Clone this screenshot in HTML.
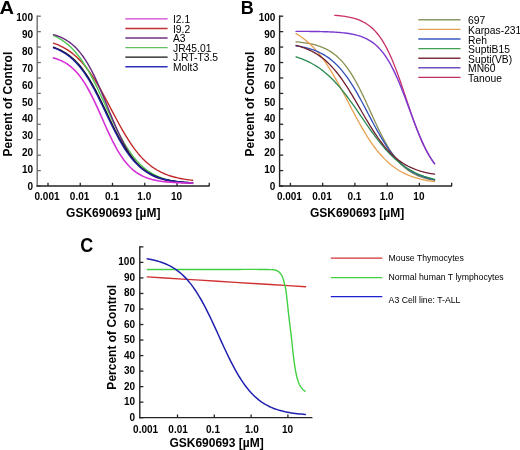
<!DOCTYPE html>
<html><head><meta charset="utf-8"><style>
html,body{margin:0;padding:0;background:#fff;}
body{width:520px;height:450px;overflow:hidden;}
svg{display:block;font-family:"Liberation Sans", sans-serif;will-change:transform;}
</style></head><body>
<svg width="520" height="450" viewBox="0 0 520 450">
<rect width="520" height="450" fill="#fff"/>
<text transform="translate(-0.6,13.9) scale(1.12,1)" x="0" y="0" font-size="18" font-weight="bold">A</text>
<line x1="37.2" y1="15.4" x2="37.2" y2="186.6" stroke="#6e6e6e" stroke-width="1.4"/>
<line x1="37.2" y1="16.2" x2="40.800000000000004" y2="16.2" stroke="#6e6e6e" stroke-width="1.3"/>
<line x1="37.2" y1="31.64" x2="40.800000000000004" y2="31.64" stroke="#6e6e6e" stroke-width="1.3"/>
<line x1="37.2" y1="47.08" x2="40.800000000000004" y2="47.08" stroke="#6e6e6e" stroke-width="1.3"/>
<line x1="37.2" y1="62.519999999999996" x2="40.800000000000004" y2="62.519999999999996" stroke="#6e6e6e" stroke-width="1.3"/>
<line x1="37.2" y1="77.96" x2="40.800000000000004" y2="77.96" stroke="#6e6e6e" stroke-width="1.3"/>
<line x1="37.2" y1="93.4" x2="40.800000000000004" y2="93.4" stroke="#6e6e6e" stroke-width="1.3"/>
<line x1="37.2" y1="108.84" x2="40.800000000000004" y2="108.84" stroke="#6e6e6e" stroke-width="1.3"/>
<line x1="37.2" y1="124.28" x2="40.800000000000004" y2="124.28" stroke="#6e6e6e" stroke-width="1.3"/>
<line x1="37.2" y1="139.72" x2="40.800000000000004" y2="139.72" stroke="#6e6e6e" stroke-width="1.3"/>
<line x1="37.2" y1="155.16" x2="40.800000000000004" y2="155.16" stroke="#6e6e6e" stroke-width="1.3"/>
<line x1="37.2" y1="170.6" x2="40.800000000000004" y2="170.6" stroke="#6e6e6e" stroke-width="1.3"/>
<line x1="37.2" y1="186.04" x2="40.800000000000004" y2="186.04" stroke="#6e6e6e" stroke-width="1.3"/>
<line x1="36.5" y1="186" x2="209.6" y2="186" stroke="#252525" stroke-width="1.3"/>
<line x1="48.0" y1="182.8" x2="48.0" y2="186" stroke="#252525" stroke-width="1.3"/>
<line x1="80.25" y1="182.8" x2="80.25" y2="186" stroke="#252525" stroke-width="1.3"/>
<line x1="112.5" y1="182.8" x2="112.5" y2="186" stroke="#252525" stroke-width="1.3"/>
<line x1="144.75" y1="182.8" x2="144.75" y2="186" stroke="#252525" stroke-width="1.3"/>
<line x1="177.0" y1="182.8" x2="177.0" y2="186" stroke="#252525" stroke-width="1.3"/>
<line x1="209.25" y1="182.8" x2="209.25" y2="186" stroke="#252525" stroke-width="1.3"/>
<text x="33.0" y="190.0" font-size="10" font-weight="bold" text-anchor="end" fill="#000" >0</text>
<text x="33.0" y="173.1" font-size="10" font-weight="bold" text-anchor="end" fill="#000" >10</text>
<text x="33.0" y="156.20000000000002" font-size="10" font-weight="bold" text-anchor="end" fill="#000" >20</text>
<text x="33.0" y="139.3" font-size="10" font-weight="bold" text-anchor="end" fill="#000" >30</text>
<text x="33.0" y="122.4" font-size="10" font-weight="bold" text-anchor="end" fill="#000" >40</text>
<text x="33.0" y="105.5" font-size="10" font-weight="bold" text-anchor="end" fill="#000" >50</text>
<text x="33.0" y="88.60000000000001" font-size="10" font-weight="bold" text-anchor="end" fill="#000" >60</text>
<text x="33.0" y="71.70000000000002" font-size="10" font-weight="bold" text-anchor="end" fill="#000" >70</text>
<text x="33.0" y="54.80000000000002" font-size="10" font-weight="bold" text-anchor="end" fill="#000" >80</text>
<text x="33.0" y="37.90000000000001" font-size="10" font-weight="bold" text-anchor="end" fill="#000" >90</text>
<text x="33.0" y="21.000000000000007" font-size="10" font-weight="bold" text-anchor="end" fill="#000" >100</text>
<text x="47.0" y="199.8" font-size="10" font-weight="bold" text-anchor="middle" fill="#000" >0.001</text>
<text x="79.6" y="199.8" font-size="10" font-weight="bold" text-anchor="middle" fill="#000" >0.01</text>
<text x="112.0" y="199.8" font-size="10" font-weight="bold" text-anchor="middle" fill="#000" >0.1</text>
<text x="144.3" y="199.8" font-size="10" font-weight="bold" text-anchor="middle" fill="#000" >1.0</text>
<text x="176.5" y="199.8" font-size="10" font-weight="bold" text-anchor="middle" fill="#000" >10</text>
<text x="66.10000000000001" y="216.6" font-size="12" font-weight="bold" text-anchor="start" fill="#000" >GSK690693 [µM]</text>
<text transform="translate(11.9,104.1) rotate(-90)" x="0" y="0" font-size="12" font-weight="bold" text-anchor="middle">Percent of Control</text>
<path d="M53.50,43.16 L55.26,43.79 L57.02,44.47 L58.78,45.21 L60.54,46.01 L62.30,46.88 L64.06,47.82 L65.83,48.84 L67.59,49.93 L69.35,51.11 L71.11,52.38 L72.87,53.74 L74.63,55.21 L76.39,56.77 L78.15,58.44 L79.91,60.22 L81.67,62.11 L83.43,64.12 L85.19,66.25 L86.95,68.49 L88.72,70.85 L90.48,73.33 L92.24,75.92 L94.00,78.63 L95.76,81.43 L97.52,84.34 L99.28,87.34 L101.04,90.43 L102.80,93.59 L104.56,96.81 L106.32,100.08 L108.08,103.39 L109.84,106.72 L111.61,110.07 L113.37,113.41 L115.13,116.74 L116.89,120.03 L118.65,123.28 L120.41,126.48 L122.17,129.60 L123.93,132.65 L125.69,135.61 L127.45,138.47 L129.21,141.23 L130.97,143.88 L132.73,146.42 L134.49,148.85 L136.26,151.16 L138.02,153.34 L139.78,155.42 L141.54,157.37 L143.30,159.21 L145.06,160.94 L146.82,162.56 L148.58,164.08 L150.34,165.49 L152.10,166.81 L153.86,168.04 L155.62,169.18 L157.38,170.24 L159.15,171.22 L160.91,172.13 L162.67,172.96 L164.43,173.74 L166.19,174.45 L167.95,175.11 L169.71,175.72 L171.47,176.27 L173.23,176.79 L174.99,177.26 L176.75,177.69 L178.51,178.09 L180.27,178.45 L182.04,178.78 L183.80,179.09 L185.56,179.37 L187.32,179.63 L189.08,179.86 L190.84,180.08 L192.60,180.27" fill="none" stroke="#c02828" stroke-width="1.4" stroke-linecap="round"/>
<path d="M53.50,35.55 L55.26,36.35 L57.02,37.23 L58.78,38.18 L60.54,39.22 L62.30,40.34 L64.06,41.56 L65.83,42.89 L67.59,44.31 L69.35,45.85 L71.11,47.51 L72.87,49.30 L74.63,51.21 L76.39,53.25 L78.15,55.44 L79.91,57.76 L81.67,60.22 L83.43,62.83 L85.19,65.58 L86.95,68.47 L88.72,71.50 L90.48,74.66 L92.24,77.94 L94.00,81.34 L95.76,84.85 L97.52,88.44 L99.28,92.12 L101.04,95.85 L102.80,99.64 L104.56,103.45 L106.32,107.28 L108.08,111.10 L109.84,114.90 L111.61,118.66 L113.37,122.35 L115.13,125.98 L116.89,129.52 L118.65,132.95 L120.41,136.27 L122.17,139.48 L123.93,142.55 L125.69,145.49 L127.45,148.29 L129.21,150.94 L130.97,153.45 L132.73,155.83 L134.49,158.06 L136.26,160.15 L138.02,162.10 L139.78,163.93 L141.54,165.63 L143.30,167.21 L145.06,168.67 L146.82,170.03 L148.58,171.28 L150.34,172.44 L152.10,173.51 L153.86,174.49 L155.62,175.39 L157.38,176.22 L159.15,176.98 L160.91,177.67 L162.67,178.31 L164.43,178.89 L166.19,179.42 L167.95,179.91 L169.71,180.35 L171.47,180.76 L173.23,181.13 L174.99,181.47 L176.75,181.77 L178.51,182.05 L180.27,182.31 L182.04,182.54 L183.80,182.75 L185.56,182.94 L187.32,183.12 L189.08,183.28 L190.84,183.42 L192.60,183.55" fill="none" stroke="#50c850" stroke-width="1.4" stroke-linecap="round"/>
<path d="M53.50,34.60 L55.26,35.14 L57.02,35.74 L58.78,36.40 L60.54,37.14 L62.30,37.96 L64.06,38.87 L65.83,39.87 L67.59,40.97 L69.35,42.19 L71.11,43.52 L72.87,44.99 L74.63,46.59 L76.39,48.34 L78.15,50.25 L79.91,52.32 L81.67,54.57 L83.43,56.99 L85.19,59.60 L86.95,62.39 L88.72,65.38 L90.48,68.54 L92.24,71.89 L94.00,75.42 L95.76,79.11 L97.52,82.96 L99.28,86.94 L101.04,91.04 L102.80,95.24 L104.56,99.51 L106.32,103.82 L108.08,108.15 L109.84,112.48 L111.61,116.77 L113.37,121.00 L115.13,125.14 L116.89,129.17 L118.65,133.07 L120.41,136.83 L122.17,140.43 L123.93,143.85 L125.69,147.09 L127.45,150.15 L129.21,153.02 L130.97,155.70 L132.73,158.20 L134.49,160.52 L136.26,162.66 L138.02,164.63 L139.78,166.45 L141.54,168.11 L143.30,169.63 L145.06,171.02 L146.82,172.28 L148.58,173.43 L150.34,174.47 L152.10,175.41 L153.86,176.26 L155.62,177.03 L157.38,177.73 L159.15,178.36 L160.91,178.92 L162.67,179.43 L164.43,179.89 L166.19,180.30 L167.95,180.67 L169.71,181.00 L171.47,181.29 L173.23,181.56 L174.99,181.80 L176.75,182.01 L178.51,182.20 L180.27,182.38 L182.04,182.53 L183.80,182.67 L185.56,182.79 L187.32,182.90 L189.08,183.00 L190.84,183.09 L192.60,183.17" fill="none" stroke="#6a2880" stroke-width="1.4" stroke-linecap="round"/>
<path d="M53.50,47.26 L55.26,47.88 L57.02,48.57 L58.78,49.32 L60.54,50.14 L62.30,51.05 L64.06,52.04 L65.83,53.11 L67.59,54.29 L69.35,55.57 L71.11,56.96 L72.87,58.47 L74.63,60.11 L76.39,61.87 L78.15,63.77 L79.91,65.81 L81.67,67.99 L83.43,70.32 L85.19,72.80 L86.95,75.42 L88.72,78.20 L90.48,81.11 L92.24,84.16 L94.00,87.34 L95.76,90.63 L97.52,94.04 L99.28,97.54 L101.04,101.11 L102.80,104.74 L104.56,108.42 L106.32,112.12 L108.08,115.82 L109.84,119.50 L111.61,123.14 L113.37,126.73 L115.13,130.24 L116.89,133.67 L118.65,136.99 L120.41,140.19 L122.17,143.27 L123.93,146.21 L125.69,149.01 L127.45,151.66 L129.21,154.17 L130.97,156.53 L132.73,158.74 L134.49,160.81 L136.26,162.74 L138.02,164.53 L139.78,166.19 L141.54,167.72 L143.30,169.14 L145.06,170.44 L146.82,171.64 L148.58,172.73 L150.34,173.74 L152.10,174.66 L153.86,175.50 L155.62,176.27 L157.38,176.96 L159.15,177.60 L160.91,178.18 L162.67,178.70 L164.43,179.18 L166.19,179.61 L167.95,180.00 L169.71,180.36 L171.47,180.68 L173.23,180.97 L174.99,181.23 L176.75,181.47 L178.51,181.68 L180.27,181.88 L182.04,182.06 L183.80,182.21 L185.56,182.36 L187.32,182.49 L189.08,182.60 L190.84,182.71 L192.60,182.80" fill="none" stroke="#101010" stroke-width="1.4" stroke-linecap="round"/>
<path d="M53.50,47.82 L55.26,48.47 L57.02,49.19 L58.78,49.97 L60.54,50.83 L62.30,51.76 L64.06,52.79 L65.83,53.91 L67.59,55.13 L69.35,56.46 L71.11,57.90 L72.87,59.46 L74.63,61.15 L76.39,62.97 L78.15,64.93 L79.91,67.03 L81.67,69.27 L83.43,71.67 L85.19,74.20 L86.95,76.89 L88.72,79.72 L90.48,82.69 L92.24,85.79 L94.00,89.02 L95.76,92.36 L97.52,95.80 L99.28,99.33 L101.04,102.93 L102.80,106.57 L104.56,110.25 L106.32,113.95 L108.08,117.63 L109.84,121.29 L111.61,124.91 L113.37,128.45 L115.13,131.92 L116.89,135.29 L118.65,138.55 L120.41,141.69 L122.17,144.70 L123.93,147.58 L125.69,150.30 L127.45,152.89 L129.21,155.32 L130.97,157.61 L132.73,159.75 L134.49,161.75 L136.26,163.61 L138.02,165.34 L139.78,166.93 L141.54,168.41 L143.30,169.77 L145.06,171.02 L146.82,172.17 L148.58,173.22 L150.34,174.19 L152.10,175.07 L153.86,175.87 L155.62,176.61 L157.38,177.27 L159.15,177.88 L160.91,178.43 L162.67,178.93 L164.43,179.39 L166.19,179.80 L167.95,180.17 L169.71,180.51 L171.47,180.82 L173.23,181.10 L174.99,181.35 L176.75,181.57 L178.51,181.78 L180.27,181.97 L182.04,182.13 L183.80,182.28 L185.56,182.42 L187.32,182.54 L189.08,182.66 L190.84,182.76 L192.60,182.85" fill="none" stroke="#2020a0" stroke-width="1.4" stroke-linecap="round"/>
<path d="M53.50,57.86 L55.26,58.39 L57.02,58.98 L58.78,59.64 L60.54,60.38 L62.30,61.21 L64.06,62.12 L65.83,63.15 L67.59,64.28 L69.35,65.54 L71.11,66.94 L72.87,68.47 L74.63,70.16 L76.39,72.01 L78.15,74.03 L79.91,76.23 L81.67,78.61 L83.43,81.18 L85.19,83.94 L86.95,86.88 L88.72,90.01 L90.48,93.31 L92.24,96.77 L94.00,100.37 L95.76,104.11 L97.52,107.94 L99.28,111.86 L101.04,115.82 L102.80,119.80 L104.56,123.78 L106.32,127.71 L108.08,131.58 L109.84,135.35 L111.61,139.00 L113.37,142.52 L115.13,145.87 L116.89,149.06 L118.65,152.07 L120.41,154.89 L122.17,157.53 L123.93,159.98 L125.69,162.24 L127.45,164.32 L129.21,166.23 L130.97,167.97 L132.73,169.56 L134.49,171.00 L136.26,172.31 L138.02,173.49 L139.78,174.55 L141.54,175.50 L143.30,176.36 L145.06,177.13 L146.82,177.82 L148.58,178.43 L150.34,178.98 L152.10,179.47 L153.86,179.90 L155.62,180.29 L157.38,180.63 L159.15,180.94 L160.91,181.21 L162.67,181.45 L164.43,181.67 L166.19,181.86 L167.95,182.03 L169.71,182.18 L171.47,182.31 L173.23,182.43 L174.99,182.53 L176.75,182.62 L178.51,182.70 L180.27,182.78 L182.04,182.84 L183.80,182.90 L185.56,182.95 L187.32,182.99 L189.08,183.03 L190.84,183.06 L192.60,183.09" fill="none" stroke="#d830d8" stroke-width="1.6" stroke-linecap="round"/>
<line x1="125.3" y1="18.9" x2="167.6" y2="18.9" stroke="#d040d0" stroke-width="1.4"/>
<text x="173.0" y="23.099999999999998" font-size="10.3" font-weight="normal" text-anchor="start" fill="#000" >I2.1</text>
<line x1="125.3" y1="28.46" x2="167.6" y2="28.46" stroke="#c03030" stroke-width="1.4"/>
<text x="173.0" y="32.660000000000004" font-size="10.3" font-weight="normal" text-anchor="start" fill="#000" >I9.2</text>
<line x1="125.3" y1="38.019999999999996" x2="167.6" y2="38.019999999999996" stroke="#703080" stroke-width="1.4"/>
<text x="173.0" y="42.22" font-size="10.3" font-weight="normal" text-anchor="start" fill="#000" >A3</text>
<line x1="125.3" y1="47.58" x2="167.6" y2="47.58" stroke="#60c060" stroke-width="1.4"/>
<text x="173.0" y="51.78" font-size="10.3" font-weight="normal" text-anchor="start" fill="#000" >JR45.01</text>
<line x1="125.3" y1="57.14" x2="167.6" y2="57.14" stroke="#101010" stroke-width="1.4"/>
<text x="173.0" y="61.34" font-size="10.3" font-weight="normal" text-anchor="start" fill="#000" >J.RT-T3.5</text>
<line x1="125.3" y1="66.7" x2="167.6" y2="66.7" stroke="#3030c0" stroke-width="1.4"/>
<text x="173.0" y="70.9" font-size="10.3" font-weight="normal" text-anchor="start" fill="#000" >Molt3</text>
<text x="240.8" y="13.9" font-size="18" font-weight="bold" text-anchor="start" fill="#000" >B</text>
<line x1="279.6" y1="15.4" x2="279.6" y2="186.6" stroke="#252525" stroke-width="1.4"/>
<line x1="279.6" y1="16.2" x2="283.20000000000005" y2="16.2" stroke="#252525" stroke-width="1.3"/>
<line x1="279.6" y1="31.64" x2="283.20000000000005" y2="31.64" stroke="#252525" stroke-width="1.3"/>
<line x1="279.6" y1="47.08" x2="283.20000000000005" y2="47.08" stroke="#252525" stroke-width="1.3"/>
<line x1="279.6" y1="62.519999999999996" x2="283.20000000000005" y2="62.519999999999996" stroke="#252525" stroke-width="1.3"/>
<line x1="279.6" y1="77.96" x2="283.20000000000005" y2="77.96" stroke="#252525" stroke-width="1.3"/>
<line x1="279.6" y1="93.4" x2="283.20000000000005" y2="93.4" stroke="#252525" stroke-width="1.3"/>
<line x1="279.6" y1="108.84" x2="283.20000000000005" y2="108.84" stroke="#252525" stroke-width="1.3"/>
<line x1="279.6" y1="124.28" x2="283.20000000000005" y2="124.28" stroke="#252525" stroke-width="1.3"/>
<line x1="279.6" y1="139.72" x2="283.20000000000005" y2="139.72" stroke="#252525" stroke-width="1.3"/>
<line x1="279.6" y1="155.16" x2="283.20000000000005" y2="155.16" stroke="#252525" stroke-width="1.3"/>
<line x1="279.6" y1="170.6" x2="283.20000000000005" y2="170.6" stroke="#252525" stroke-width="1.3"/>
<line x1="279.6" y1="186.04" x2="283.20000000000005" y2="186.04" stroke="#252525" stroke-width="1.3"/>
<line x1="278.90000000000003" y1="186" x2="452.0" y2="186" stroke="#252525" stroke-width="1.3"/>
<line x1="290.4" y1="182.8" x2="290.4" y2="186" stroke="#252525" stroke-width="1.3"/>
<line x1="322.65" y1="182.8" x2="322.65" y2="186" stroke="#252525" stroke-width="1.3"/>
<line x1="354.9" y1="182.8" x2="354.9" y2="186" stroke="#252525" stroke-width="1.3"/>
<line x1="387.15" y1="182.8" x2="387.15" y2="186" stroke="#252525" stroke-width="1.3"/>
<line x1="419.4" y1="182.8" x2="419.4" y2="186" stroke="#252525" stroke-width="1.3"/>
<line x1="451.65" y1="182.8" x2="451.65" y2="186" stroke="#252525" stroke-width="1.3"/>
<text x="275.4" y="190.0" font-size="10" font-weight="bold" text-anchor="end" fill="#000" >0</text>
<text x="275.4" y="173.1" font-size="10" font-weight="bold" text-anchor="end" fill="#000" >10</text>
<text x="275.4" y="156.20000000000002" font-size="10" font-weight="bold" text-anchor="end" fill="#000" >20</text>
<text x="275.4" y="139.3" font-size="10" font-weight="bold" text-anchor="end" fill="#000" >30</text>
<text x="275.4" y="122.4" font-size="10" font-weight="bold" text-anchor="end" fill="#000" >40</text>
<text x="275.4" y="105.5" font-size="10" font-weight="bold" text-anchor="end" fill="#000" >50</text>
<text x="275.4" y="88.60000000000001" font-size="10" font-weight="bold" text-anchor="end" fill="#000" >60</text>
<text x="275.4" y="71.70000000000002" font-size="10" font-weight="bold" text-anchor="end" fill="#000" >70</text>
<text x="275.4" y="54.80000000000002" font-size="10" font-weight="bold" text-anchor="end" fill="#000" >80</text>
<text x="275.4" y="37.90000000000001" font-size="10" font-weight="bold" text-anchor="end" fill="#000" >90</text>
<text x="275.4" y="21.000000000000007" font-size="10" font-weight="bold" text-anchor="end" fill="#000" >100</text>
<text x="289.4" y="199.8" font-size="10" font-weight="bold" text-anchor="middle" fill="#000" >0.001</text>
<text x="322.0" y="199.8" font-size="10" font-weight="bold" text-anchor="middle" fill="#000" >0.01</text>
<text x="354.4" y="199.8" font-size="10" font-weight="bold" text-anchor="middle" fill="#000" >0.1</text>
<text x="386.70000000000005" y="199.8" font-size="10" font-weight="bold" text-anchor="middle" fill="#000" >1.0</text>
<text x="418.9" y="199.8" font-size="10" font-weight="bold" text-anchor="middle" fill="#000" >10</text>
<text x="309.9" y="216.6" font-size="12" font-weight="bold" text-anchor="start" fill="#000" >GSK690693 [µM]</text>
<text transform="translate(254.3,104.1) rotate(-90)" x="0" y="0" font-size="12" font-weight="bold" text-anchor="middle">Percent of Control</text>
<path d="M296.00,41.79 L297.75,41.95 L299.51,42.13 L301.26,42.33 L303.02,42.55 L304.77,42.80 L306.53,43.07 L308.28,43.37 L310.04,43.71 L311.79,44.08 L313.54,44.49 L315.30,44.95 L317.05,45.46 L318.81,46.01 L320.56,46.63 L322.32,47.31 L324.07,48.07 L325.83,48.89 L327.58,49.81 L329.33,50.81 L331.09,51.90 L332.84,53.11 L334.60,54.42 L336.35,55.85 L338.11,57.41 L339.86,59.11 L341.62,60.94 L343.37,62.92 L345.12,65.06 L346.88,67.35 L348.63,69.80 L350.39,72.41 L352.14,75.18 L353.90,78.11 L355.65,81.20 L357.41,84.42 L359.16,87.79 L360.91,91.28 L362.67,94.88 L364.42,98.57 L366.18,102.33 L367.93,106.15 L369.69,110.00 L371.44,113.86 L373.19,117.71 L374.95,121.52 L376.70,125.28 L378.46,128.96 L380.21,132.54 L381.97,136.01 L383.72,139.36 L385.48,142.56 L387.23,145.62 L388.98,148.53 L390.74,151.28 L392.49,153.86 L394.25,156.29 L396.00,158.56 L397.76,160.67 L399.51,162.63 L401.27,164.44 L403.02,166.11 L404.77,167.65 L406.53,169.07 L408.28,170.36 L410.04,171.55 L411.79,172.63 L413.55,173.62 L415.30,174.52 L417.06,175.33 L418.81,176.07 L420.56,176.75 L422.32,177.35 L424.07,177.90 L425.83,178.40 L427.58,178.85 L429.34,179.26 L431.09,179.62 L432.85,179.96 L434.60,180.25" fill="none" stroke="#8a9050" stroke-width="1.3" stroke-linecap="round"/>
<path d="M296.00,33.68 L297.75,34.70 L299.51,35.78 L301.26,36.95 L303.02,38.19 L304.77,39.52 L306.53,40.93 L308.28,42.43 L310.04,44.02 L311.79,45.71 L313.54,47.50 L315.30,49.40 L317.05,51.39 L318.81,53.49 L320.56,55.70 L322.32,58.01 L324.07,60.43 L325.83,62.95 L327.58,65.57 L329.33,68.29 L331.09,71.11 L332.84,74.02 L334.60,77.01 L336.35,80.08 L338.11,83.22 L339.86,86.42 L341.62,89.68 L343.37,92.97 L345.12,96.30 L346.88,99.65 L348.63,103.01 L350.39,106.37 L352.14,109.71 L353.90,113.03 L355.65,116.32 L357.41,119.56 L359.16,122.75 L360.91,125.87 L362.67,128.92 L364.42,131.89 L366.18,134.78 L367.93,137.58 L369.69,140.27 L371.44,142.87 L373.19,145.37 L374.95,147.76 L376.70,150.05 L378.46,152.23 L380.21,154.30 L381.97,156.27 L383.72,158.14 L385.48,159.90 L387.23,161.57 L388.98,163.14 L390.74,164.62 L392.49,166.01 L394.25,167.32 L396.00,168.54 L397.76,169.69 L399.51,170.76 L401.27,171.76 L403.02,172.69 L404.77,173.56 L406.53,174.37 L408.28,175.13 L410.04,175.83 L411.79,176.48 L413.55,177.08 L415.30,177.65 L417.06,178.17 L418.81,178.65 L420.56,179.10 L422.32,179.51 L424.07,179.90 L425.83,180.25 L427.58,180.58 L429.34,180.88 L431.09,181.17 L432.85,181.43 L434.60,181.67" fill="none" stroke="#e8a050" stroke-width="1.3" stroke-linecap="round"/>
<path d="M296.00,45.79 L297.75,46.06 L299.51,46.36 L301.26,46.68 L303.02,47.04 L304.77,47.43 L306.53,47.85 L308.28,48.31 L310.04,48.82 L311.79,49.37 L313.54,49.97 L315.30,50.63 L317.05,51.35 L318.81,52.12 L320.56,52.97 L322.32,53.88 L324.07,54.88 L325.83,55.95 L327.58,57.12 L329.33,58.37 L331.09,59.73 L332.84,61.18 L334.60,62.74 L336.35,64.41 L338.11,66.20 L339.86,68.10 L341.62,70.13 L343.37,72.28 L345.12,74.55 L346.88,76.94 L348.63,79.45 L350.39,82.08 L352.14,84.83 L353.90,87.68 L355.65,90.63 L357.41,93.68 L359.16,96.81 L360.91,100.00 L362.67,103.26 L364.42,106.56 L366.18,109.89 L367.93,113.24 L369.69,116.58 L371.44,119.91 L373.19,123.22 L374.95,126.47 L376.70,129.67 L378.46,132.80 L380.21,135.84 L381.97,138.80 L383.72,141.65 L385.48,144.39 L387.23,147.02 L388.98,149.54 L390.74,151.93 L392.49,154.20 L394.25,156.35 L396.00,158.37 L397.76,160.27 L399.51,162.06 L401.27,163.73 L403.02,165.29 L404.77,166.75 L406.53,168.10 L408.28,169.35 L410.04,170.52 L411.79,171.59 L413.55,172.59 L415.30,173.50 L417.06,174.35 L418.81,175.13 L420.56,175.84 L422.32,176.50 L424.07,177.10 L425.83,177.65 L427.58,178.16 L429.34,178.62 L431.09,179.05 L432.85,179.43 L434.60,179.79" fill="none" stroke="#3050b8" stroke-width="1.3" stroke-linecap="round"/>
<path d="M296.00,56.88 L297.75,57.43 L299.51,58.03 L301.26,58.67 L303.02,59.35 L304.77,60.08 L306.53,60.85 L308.28,61.67 L310.04,62.55 L311.79,63.48 L313.54,64.47 L315.30,65.52 L317.05,66.63 L318.81,67.81 L320.56,69.05 L322.32,70.36 L324.07,71.74 L325.83,73.19 L327.58,74.71 L329.33,76.31 L331.09,77.98 L332.84,79.73 L334.60,81.55 L336.35,83.45 L338.11,85.42 L339.86,87.45 L341.62,89.56 L343.37,91.73 L345.12,93.97 L346.88,96.26 L348.63,98.61 L350.39,101.01 L352.14,103.45 L353.90,105.93 L355.65,108.43 L357.41,110.97 L359.16,113.52 L360.91,116.08 L362.67,118.64 L364.42,121.20 L366.18,123.75 L367.93,126.28 L369.69,128.78 L371.44,131.25 L373.19,133.69 L374.95,136.07 L376.70,138.41 L378.46,140.70 L380.21,142.92 L381.97,145.08 L383.72,147.18 L385.48,149.20 L387.23,151.16 L388.98,153.04 L390.74,154.85 L392.49,156.58 L394.25,158.24 L396.00,159.82 L397.76,161.33 L399.51,162.77 L401.27,164.14 L403.02,165.44 L404.77,166.67 L406.53,167.83 L408.28,168.93 L410.04,169.96 L411.79,170.94 L413.55,171.86 L415.30,172.73 L417.06,173.55 L418.81,174.31 L420.56,175.03 L422.32,175.70 L424.07,176.33 L425.83,176.92 L427.58,177.47 L429.34,177.99 L431.09,178.47 L432.85,178.92 L434.60,179.34" fill="none" stroke="#2a8a50" stroke-width="1.3" stroke-linecap="round"/>
<path d="M296.00,45.43 L297.75,45.89 L299.51,46.38 L301.26,46.92 L303.02,47.51 L304.77,48.14 L306.53,48.83 L308.28,49.57 L310.04,50.37 L311.79,51.23 L313.54,52.16 L315.30,53.16 L317.05,54.23 L318.81,55.38 L320.56,56.62 L322.32,57.94 L324.07,59.35 L325.83,60.85 L327.58,62.45 L329.33,64.15 L331.09,65.96 L332.84,67.86 L334.60,69.87 L336.35,71.98 L338.11,74.19 L339.86,76.51 L341.62,78.92 L343.37,81.43 L345.12,84.03 L346.88,86.71 L348.63,89.47 L350.39,92.31 L352.14,95.20 L353.90,98.14 L355.65,101.13 L357.41,104.14 L359.16,107.18 L360.91,110.21 L362.67,113.25 L364.42,116.26 L366.18,119.25 L367.93,122.20 L369.69,125.09 L371.44,127.93 L373.19,130.69 L374.95,133.38 L376.70,135.98 L378.46,138.50 L380.21,140.92 L381.97,143.24 L383.72,145.46 L385.48,147.57 L387.23,149.58 L388.98,151.49 L390.74,153.30 L392.49,155.00 L394.25,156.61 L396.00,158.12 L397.76,159.53 L399.51,160.86 L401.27,162.10 L403.02,163.26 L404.77,164.33 L406.53,165.34 L408.28,166.27 L410.04,167.13 L411.79,167.94 L413.55,168.68 L415.30,169.37 L417.06,170.00 L418.81,170.59 L420.56,171.13 L422.32,171.63 L424.07,172.09 L425.83,172.52 L427.58,172.91 L429.34,173.27 L431.09,173.60 L432.85,173.90 L434.60,174.18" fill="none" stroke="#702030" stroke-width="1.3" stroke-linecap="round"/>
<path d="M334.70,15.28 L335.96,15.38 L337.23,15.49 L338.49,15.61 L339.76,15.74 L341.02,15.88 L342.29,16.03 L343.55,16.20 L344.82,16.38 L346.08,16.58 L347.35,16.80 L348.61,17.04 L349.87,17.29 L351.14,17.58 L352.40,17.88 L353.67,18.22 L354.93,18.58 L356.20,18.98 L357.46,19.41 L358.73,19.88 L359.99,20.39 L361.26,20.95 L362.52,21.55 L363.78,22.21 L365.05,22.92 L366.31,23.68 L367.58,24.52 L368.84,25.42 L370.11,26.39 L371.37,27.44 L372.64,28.57 L373.90,29.79 L375.17,31.11 L376.43,32.52 L377.69,34.03 L378.96,35.65 L380.22,37.38 L381.49,39.23 L382.75,41.20 L384.02,43.29 L385.28,45.51 L386.55,47.86 L387.81,50.33 L389.08,52.94 L390.34,55.68 L391.61,58.54 L392.87,61.53 L394.13,64.65 L395.40,67.87 L396.66,71.20 L397.93,74.64 L399.19,78.16 L400.46,81.76 L401.72,85.42 L402.99,89.14 L404.25,92.89 L405.52,96.67 L406.78,100.46 L408.04,104.24 L409.31,108.01 L410.57,111.73 L411.84,115.41 L413.10,119.02 L414.37,122.55 L415.63,126.00 L416.90,129.35 L418.16,132.60 L419.43,135.73 L420.69,138.74 L421.95,141.63 L423.22,144.39 L424.48,147.02 L425.75,149.52 L427.01,151.89 L428.28,154.14 L429.54,156.25 L430.81,158.24 L432.07,160.11 L433.34,161.86 L434.60,163.50" fill="none" stroke="#c83068" stroke-width="1.3" stroke-linecap="round"/>
<path d="M296.00,31.34 L297.75,31.35 L299.51,31.35 L301.26,31.36 L303.02,31.37 L304.77,31.39 L306.53,31.40 L308.28,31.42 L310.04,31.43 L311.79,31.45 L313.54,31.48 L315.30,31.50 L317.05,31.53 L318.81,31.56 L320.56,31.60 L322.32,31.64 L324.07,31.69 L325.83,31.74 L327.58,31.80 L329.33,31.87 L331.09,31.95 L332.84,32.03 L334.60,32.13 L336.35,32.24 L338.11,32.36 L339.86,32.50 L341.62,32.66 L343.37,32.84 L345.12,33.04 L346.88,33.26 L348.63,33.52 L350.39,33.80 L352.14,34.12 L353.90,34.49 L355.65,34.89 L357.41,35.35 L359.16,35.87 L360.91,36.44 L362.67,37.09 L364.42,37.81 L366.18,38.62 L367.93,39.53 L369.69,40.54 L371.44,41.66 L373.19,42.91 L374.95,44.29 L376.70,45.83 L378.46,47.52 L380.21,49.39 L381.97,51.43 L383.72,53.68 L385.48,56.12 L387.23,58.78 L388.98,61.66 L390.74,64.76 L392.49,68.08 L394.25,71.62 L396.00,75.38 L397.76,79.34 L399.51,83.49 L401.27,87.80 L403.02,92.27 L404.77,96.85 L406.53,101.52 L408.28,106.24 L410.04,110.99 L411.79,115.72 L413.55,120.39 L415.30,124.99 L417.06,129.47 L418.81,133.80 L420.56,137.98 L422.32,141.96 L424.07,145.74 L425.83,149.31 L427.58,152.66 L429.34,155.79 L431.09,158.69 L432.85,161.38 L434.60,163.85" fill="none" stroke="#7a38d0" stroke-width="1.4" stroke-linecap="round"/>
<line x1="418.3" y1="19.8" x2="460.5" y2="19.8" stroke="#8a9a60" stroke-width="1.4"/>
<text x="468.1" y="24.4" font-size="10.3" font-weight="normal" text-anchor="start" fill="#000" >697</text>
<line x1="418.3" y1="29.4" x2="460.5" y2="29.4" stroke="#e0a050" stroke-width="1.4"/>
<text x="468.1" y="34.0" font-size="10.3" font-weight="normal" text-anchor="start" fill="#000" >Karpas-231</text>
<line x1="418.3" y1="39.0" x2="460.5" y2="39.0" stroke="#3a58c0" stroke-width="1.4"/>
<text x="468.1" y="43.6" font-size="10.3" font-weight="normal" text-anchor="start" fill="#000" >Reh</text>
<line x1="418.3" y1="48.599999999999994" x2="460.5" y2="48.599999999999994" stroke="#40a050" stroke-width="1.4"/>
<text x="468.1" y="53.199999999999996" font-size="10.3" font-weight="normal" text-anchor="start" fill="#000" >SuptiB15</text>
<line x1="418.3" y1="58.2" x2="460.5" y2="58.2" stroke="#803040" stroke-width="1.4"/>
<text x="468.1" y="62.800000000000004" font-size="10.3" font-weight="normal" text-anchor="start" fill="#000" >Supti(VB)</text>
<line x1="418.3" y1="67.8" x2="460.5" y2="67.8" stroke="#7050c0" stroke-width="1.4"/>
<text x="468.1" y="72.39999999999999" font-size="10.3" font-weight="normal" text-anchor="start" fill="#000" >MN60</text>
<line x1="418.3" y1="77.39999999999999" x2="460.5" y2="77.39999999999999" stroke="#c03060" stroke-width="1.4"/>
<text x="468.1" y="81.99999999999999" font-size="10.3" font-weight="normal" text-anchor="start" fill="#000" >Tanoue</text>
<text transform="translate(80.3,252.4) scale(1.0,1.1)" x="0" y="0" font-size="18" font-weight="bold">C</text>
<line x1="139.8" y1="246.3" x2="139.8" y2="418.3" stroke="#252525" stroke-width="1.4"/>
<line x1="139.8" y1="417.7" x2="143.4" y2="417.7" stroke="#252525" stroke-width="1.3"/>
<line x1="139.8" y1="402.17" x2="143.4" y2="402.17" stroke="#252525" stroke-width="1.3"/>
<line x1="139.8" y1="386.64" x2="143.4" y2="386.64" stroke="#252525" stroke-width="1.3"/>
<line x1="139.8" y1="371.11" x2="143.4" y2="371.11" stroke="#252525" stroke-width="1.3"/>
<line x1="139.8" y1="355.58" x2="143.4" y2="355.58" stroke="#252525" stroke-width="1.3"/>
<line x1="139.8" y1="340.05" x2="143.4" y2="340.05" stroke="#252525" stroke-width="1.3"/>
<line x1="139.8" y1="324.52" x2="143.4" y2="324.52" stroke="#252525" stroke-width="1.3"/>
<line x1="139.8" y1="308.99" x2="143.4" y2="308.99" stroke="#252525" stroke-width="1.3"/>
<line x1="139.8" y1="293.46" x2="143.4" y2="293.46" stroke="#252525" stroke-width="1.3"/>
<line x1="139.8" y1="277.93" x2="143.4" y2="277.93" stroke="#252525" stroke-width="1.3"/>
<line x1="139.8" y1="262.4" x2="143.4" y2="262.4" stroke="#252525" stroke-width="1.3"/>
<line x1="139.8" y1="246.87" x2="143.4" y2="246.87" stroke="#252525" stroke-width="1.3"/>
<line x1="139.10000000000002" y1="417.7" x2="312.4" y2="417.7" stroke="#252525" stroke-width="1.3"/>
<line x1="177.5" y1="414.5" x2="177.5" y2="417.7" stroke="#252525" stroke-width="1.3"/>
<line x1="214.3" y1="414.5" x2="214.3" y2="417.7" stroke="#252525" stroke-width="1.3"/>
<line x1="251.1" y1="414.5" x2="251.1" y2="417.7" stroke="#252525" stroke-width="1.3"/>
<line x1="287.9" y1="414.5" x2="287.9" y2="417.7" stroke="#252525" stroke-width="1.3"/>
<text x="135.0" y="420.7" font-size="10" font-weight="bold" text-anchor="end" fill="#000" >0</text>
<text x="135.0" y="405.17" font-size="10" font-weight="bold" text-anchor="end" fill="#000" >10</text>
<text x="135.0" y="389.64" font-size="10" font-weight="bold" text-anchor="end" fill="#000" >20</text>
<text x="135.0" y="374.11" font-size="10" font-weight="bold" text-anchor="end" fill="#000" >30</text>
<text x="135.0" y="358.58" font-size="10" font-weight="bold" text-anchor="end" fill="#000" >40</text>
<text x="135.0" y="343.05" font-size="10" font-weight="bold" text-anchor="end" fill="#000" >50</text>
<text x="135.0" y="327.52" font-size="10" font-weight="bold" text-anchor="end" fill="#000" >60</text>
<text x="135.0" y="311.99" font-size="10" font-weight="bold" text-anchor="end" fill="#000" >70</text>
<text x="135.0" y="296.46" font-size="10" font-weight="bold" text-anchor="end" fill="#000" >80</text>
<text x="135.0" y="280.93" font-size="10" font-weight="bold" text-anchor="end" fill="#000" >90</text>
<text x="135.0" y="265.4" font-size="10" font-weight="bold" text-anchor="end" fill="#000" >100</text>
<text x="145.6" y="432.9" font-size="10" font-weight="bold" text-anchor="middle" fill="#000" >0.001</text>
<text x="178.1" y="432.9" font-size="10" font-weight="bold" text-anchor="middle" fill="#000" >0.01</text>
<text x="213.0" y="432.9" font-size="10" font-weight="bold" text-anchor="middle" fill="#000" >0.1</text>
<text x="251.9" y="432.9" font-size="10" font-weight="bold" text-anchor="middle" fill="#000" >1.0</text>
<text x="287.5" y="432.9" font-size="10" font-weight="bold" text-anchor="middle" fill="#000" >10</text>
<text x="169.4" y="446.6" font-size="12" font-weight="bold" text-anchor="start" fill="#000" >GSK690693 [µM]</text>
<text transform="translate(116,337.3) rotate(-90)" x="0" y="0" font-size="12" font-weight="bold" text-anchor="middle">Percent of Control</text>
<path d="M147.30,276.90 L164.89,277.99 L182.48,279.08 L200.07,280.17 L217.66,281.26 L235.24,282.35 L252.83,283.44 L270.42,284.53 L288.01,285.62 L305.60,286.71" fill="none" stroke="#d03030" stroke-width="1.4" stroke-linecap="round"/>
<path d="M147.30,269.50 L152.53,269.50 L157.77,269.50 L163.01,269.50 L168.25,269.50 L173.49,269.49 L178.74,269.49 L183.97,269.49 L189.20,269.49 L194.42,269.49 L199.63,269.49 L204.82,269.50 L210.00,269.50 L215.26,269.50 L220.84,269.49 L226.65,269.47 L232.55,269.45 L238.45,269.43 L244.22,269.42 L249.76,269.41 L254.96,269.42 L259.69,269.43 L263.85,269.47 L267.32,269.52 L270.00,269.60 L270.62,269.62 L271.17,269.64 L271.67,269.66 L272.13,269.67 L272.55,269.69 L272.94,269.71 L273.30,269.73 L273.64,269.76 L273.98,269.80 L274.31,269.85 L274.65,269.92 L275.00,270.00 L275.29,270.08 L275.56,270.16 L275.83,270.25 L276.10,270.35 L276.36,270.45 L276.61,270.56 L276.85,270.67 L277.09,270.79 L277.33,270.91 L277.56,271.04 L277.78,271.17 L278.00,271.30 L278.19,271.42 L278.37,271.54 L278.55,271.67 L278.72,271.80 L278.89,271.93 L279.06,272.07 L279.22,272.21 L279.38,272.36 L279.53,272.51 L279.69,272.67 L279.84,272.83 L280.00,273.00 L280.18,273.21 L280.36,273.43 L280.54,273.67 L280.72,273.91 L280.89,274.16 L281.07,274.41 L281.23,274.67 L281.40,274.94 L281.56,275.20 L281.71,275.47 L281.86,275.74 L282.00,276.00 L282.13,276.26 L282.26,276.53 L282.38,276.79 L282.49,277.06 L282.60,277.33 L282.71,277.60 L282.81,277.88 L282.91,278.15 L283.01,278.43 L283.11,278.72 L283.20,279.01 L283.30,279.30 L283.40,279.63 L283.50,279.96 L283.60,280.31 L283.69,280.65 L283.79,281.00 L283.87,281.35 L283.96,281.71 L284.05,282.07 L284.14,282.43 L284.22,282.78 L284.31,283.14 L284.40,283.50 L284.49,283.87 L284.59,284.23 L284.68,284.59 L284.78,284.95 L284.87,285.31 L284.97,285.67 L285.06,286.04 L285.15,286.42 L285.24,286.80 L285.33,287.19 L285.42,287.59 L285.50,288.00 L285.60,288.52 L285.69,289.03 L285.77,289.55 L285.85,290.08 L285.93,290.62 L286.01,291.17 L286.09,291.75 L286.16,292.34 L286.24,292.96 L286.32,293.61 L286.41,294.29 L286.50,295.00 L286.66,296.30 L286.82,297.71 L286.99,299.22 L287.17,300.82 L287.35,302.49 L287.53,304.22 L287.72,305.99 L287.91,307.79 L288.10,309.60 L288.30,311.42 L288.50,313.22 L288.70,315.00 L288.93,317.01 L289.18,319.08 L289.43,321.20 L289.70,323.36 L289.96,325.54 L290.23,327.72 L290.50,329.89 L290.76,332.03 L291.01,334.13 L291.25,336.17 L291.49,338.13 L291.70,340.00 L291.85,341.38 L292.00,342.72 L292.13,344.02 L292.26,345.28 L292.39,346.52 L292.51,347.74 L292.63,348.94 L292.75,350.14 L292.88,351.34 L293.01,352.55 L293.15,353.76 L293.30,355.00 L293.46,356.26 L293.61,357.54 L293.77,358.83 L293.93,360.12 L294.10,361.41 L294.27,362.70 L294.45,363.97 L294.63,365.23 L294.81,366.47 L295.00,367.68 L295.20,368.86 L295.40,370.00 L295.57,370.92 L295.75,371.83 L295.93,372.73 L296.11,373.62 L296.29,374.50 L296.48,375.36 L296.68,376.20 L296.87,377.01 L297.08,377.80 L297.28,378.57 L297.49,379.30 L297.70,380.00 L297.85,380.49 L298.01,380.95 L298.16,381.40 L298.31,381.84 L298.46,382.26 L298.62,382.67 L298.78,383.07 L298.95,383.46 L299.13,383.85 L299.31,384.24 L299.50,384.62 L299.70,385.00 L299.90,385.36 L300.11,385.73 L300.33,386.08 L300.56,386.44 L300.79,386.79 L301.03,387.13 L301.27,387.47 L301.52,387.79 L301.76,388.11 L302.01,388.42 L302.26,388.72 L302.50,389.00 L302.70,389.22 L302.91,389.44 L303.11,389.64 L303.32,389.84 L303.53,390.03 L303.74,390.21 L303.95,390.39 L304.16,390.57 L304.37,390.75 L304.58,390.93 L304.79,391.11 L305.00,391.30" fill="none" stroke="#40d040" stroke-width="1.4" stroke-linecap="round"/>
<path d="M147.30,258.86 L149.30,259.21 L151.30,259.60 L153.30,260.03 L155.30,260.50 L157.30,261.03 L159.30,261.62 L161.30,262.27 L163.30,262.99 L165.30,263.78 L167.30,264.66 L169.30,265.63 L171.30,266.70 L173.30,267.87 L175.30,269.16 L177.30,270.57 L179.30,272.12 L181.30,273.80 L183.30,275.64 L185.30,277.64 L187.30,279.80 L189.30,282.14 L191.30,284.65 L193.30,287.35 L195.30,290.23 L197.30,293.31 L199.30,296.56 L201.30,300.00 L203.30,303.61 L205.30,307.39 L207.30,311.31 L209.30,315.37 L211.30,319.55 L213.30,323.82 L215.30,328.16 L217.30,332.55 L219.30,336.96 L221.30,341.36 L223.30,345.72 L225.30,350.03 L227.30,354.26 L229.30,358.37 L231.30,362.36 L233.30,366.21 L235.30,369.90 L237.30,373.42 L239.30,376.77 L241.30,379.93 L243.30,382.90 L245.30,385.68 L247.30,388.29 L249.30,390.70 L251.30,392.95 L253.30,395.02 L255.30,396.93 L257.30,398.69 L259.30,400.30 L261.30,401.77 L263.30,403.12 L265.30,404.35 L267.30,405.46 L269.30,406.47 L271.30,407.39 L273.30,408.23 L275.30,408.98 L277.30,409.66 L279.30,410.28 L281.30,410.83 L283.30,411.34 L285.30,411.79 L287.30,412.19 L289.30,412.56 L291.30,412.89 L293.30,413.18 L295.30,413.45 L297.30,413.69 L299.30,413.90 L301.30,414.10 L303.30,414.27 L305.30,414.43" fill="none" stroke="#2020b0" stroke-width="1.5" stroke-linecap="round"/>
<line x1="330.8" y1="258.2" x2="382.3" y2="258.2" stroke="#d03030" stroke-width="1.3"/>
<text x="388.6" y="260.7" font-size="8.7" font-weight="normal" text-anchor="start" fill="#000" >Mouse Thymocytes</text>
<line x1="330.8" y1="277.6" x2="382.3" y2="277.6" stroke="#40d040" stroke-width="1.3"/>
<text x="388.6" y="280.1" font-size="8.7" font-weight="normal" text-anchor="start" fill="#000" >Normal human T lymphocytes</text>
<line x1="330.8" y1="296.6" x2="382.3" y2="296.6" stroke="#2020d0" stroke-width="1.3"/>
<text x="388.6" y="302.6" font-size="8.7" font-weight="normal" text-anchor="start" fill="#000" >A3 Cell line: T-ALL</text>
</svg></body></html>
